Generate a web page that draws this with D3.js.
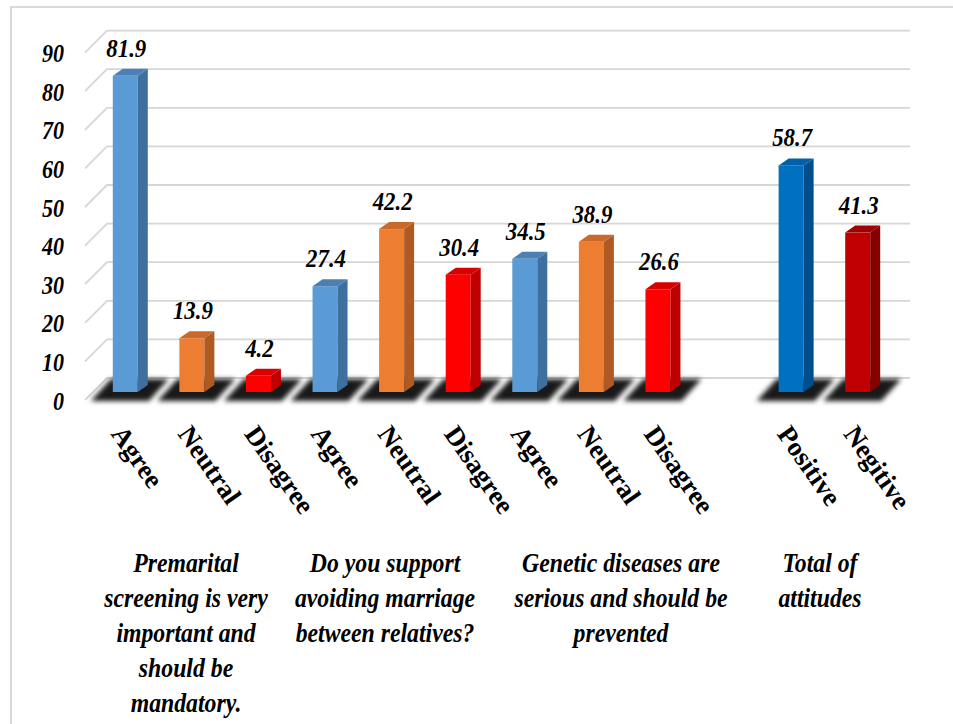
<!DOCTYPE html>
<html>
<head>
<meta charset="utf-8">
<script src="https://cdn.jsdelivr.net/npm/d3@7"></script>
<style>
  html, body { margin: 0; padding: 0; background: #fff; }
  svg { display: block; }
</style>
</head>
<body>
<svg id="chart" width="953" height="724"></svg>
<script>
// ---------------- DATA ----------------
const categories = ["Agree", "Neutral", "Disagree", "Agree", "Neutral", "Disagree",
                    "Agree", "Neutral", "Disagree", "", "Positive", "Negitive"];
const values = [81.9, 13.9, 4.2, 27.4, 42.2, 30.4, 34.5, 38.9, 26.6, null, 58.7, 41.3];
const colorKeys = ["agree", "neutral", "disagree", "agree", "neutral", "disagree",
                   "agree", "neutral", "disagree", null, "positive", "negative"];
const yTicks = [0, 10, 20, 30, 40, 50, 60, 70, 80, 90];
const groupLabels = [
  ["Premarital", "screening is very", "important and", "should be", "mandatory."],
  ["Do you support", "avoiding marriage", "between relatives?"],
  ["Genetic diseases are", "serious and should be", "prevented"],
  ["Total of", "attitudes"]
];

// ---------------- STYLE / LAYOUT ----------------
const palette = {
  agree:    { front: "#5B9BD5", side: "#3F6F9E", top: "#4A80B5" },
  neutral:  { front: "#ED7D31", side: "#AE5A22", top: "#C9692A" },
  disagree: { front: "#FF0000", side: "#BF0000", top: "#D90000" },
  positive: { front: "#0070C0", side: "#004F8C", top: "#0060A8" },
  negative: { front: "#C00000", side: "#850000", top: "#A00000" }
};
const groupLabelX = [186, 385, 621, 820];
const serif = "'Liberation Serif', 'Times New Roman', serif";

const svg = d3.select("#chart");

// Frame
svg.append("path").attr("d", "M11,724 L11,7 L953,7")
  .attr("fill", "none").attr("stroke", "#d9d9d9").attr("stroke-width", 2);

// Scales
const depthX = 22, depthY = 22;      // wall depth offset
const wallLeft = 107, wallRight = 910;
const yBack = d3.scaleLinear().domain([0, 90]).range([378, 378 - 90 * 3.86]);
const yFront = v => yBack(v) + depthY;
const yBar = d3.scaleLinear().domain([0, 90]).range([392, 392 - 90 * 3.86]);
const x = d3.scaleBand().domain(d3.range(categories.length)).range([97, 896]).paddingInner(0);
const barW = 25, sideW = 10, sideH = 7;
const barLeft = i => x(i) + x.bandwidth() / 2 - 17.5;

// Defs
const defs = svg.append("defs");
defs.append("filter").attr("id", "blur").attr("x", "-30%").attr("y", "-80%")
  .attr("width", "160%").attr("height", "260%")
  .append("feGaussianBlur").attr("stdDeviation", 2.6);

// Gridlines (back wall + left wall diagonal)
const grid = svg.append("g");
yTicks.forEach(t => {
  grid.append("path")
    .attr("d", `M${wallLeft - depthX},${yFront(t)} L${wallLeft},${yBack(t)} L${wallRight},${yBack(t)}`)
    .attr("fill", "none").attr("stroke", "#d6d6d6").attr("stroke-width", 1.8);
});

// Y tick labels
svg.append("g").selectAll("text").data(yTicks).join("text")
  .attr("transform", d => `translate(64,${yFront(d) + 1}) scale(0.92,1.05)`)
  .attr("text-anchor", "end").attr("dominant-baseline", "central")
  .attr("font-family", serif).attr("font-weight", "bold").attr("font-style", "italic")
  .attr("font-size", 24).attr("fill", "#000")
  .text(d => d);

// Floor shadows
const idx = d3.range(categories.length).filter(i => values[i] != null);
svg.append("g").attr("filter", "url(#blur)").selectAll("path").data(idx).join("path")
  .attr("d", i => {
    const l = barLeft(i);
    const t = yBack(0) + 1, b = yFront(0) + 1;
    return `M${l - 2},${t} L${l + 56},${t} L${l + 36},${b} L${l - 22},${b} Z`;
  })
  .attr("fill", "#000").attr("opacity", 0.9);

// Bars
const bars = svg.append("g").selectAll("g").data(idx).join("g");
bars.append("rect")
  .attr("x", i => barLeft(i)).attr("y", i => yBar(values[i]))
  .attr("width", barW).attr("height", i => yBar(0) - yBar(values[i]))
  .attr("fill", i => palette[colorKeys[i]].front);
bars.append("path")
  .attr("d", i => {
    const l = barLeft(i) + barW, t = yBar(values[i]), b = yBar(0);
    return `M${l},${t} L${l + sideW},${t - sideH} L${l + sideW},${b - sideH} L${l},${b} Z`;
  })
  .attr("fill", i => palette[colorKeys[i]].side);
bars.append("path")
  .attr("d", i => {
    const l = barLeft(i), t = yBar(values[i]);
    return `M${l},${t} L${l + sideW},${t - sideH} L${l + barW + sideW},${t - sideH} L${l + barW},${t} Z`;
  })
  .attr("fill", i => palette[colorKeys[i]].top);

// Value labels
svg.append("g").selectAll("text").data(idx).join("text")
  .attr("transform", i => `translate(${barLeft(i) + barW / 2 + 1},${yBar(values[i]) - 19}) scale(0.95,1.05)`)
  .attr("text-anchor", "middle")
  .attr("font-family", serif).attr("font-weight", "bold").attr("font-style", "italic")
  .attr("font-size", 24).attr("fill", "#000")
  .text(i => values[i].toFixed(1));

// Category labels (rotated)
svg.append("g").selectAll("text").data(idx).join("text")
  .attr("transform", i => `translate(${barLeft(i) + barW / 2 - 15},${434}) rotate(55)`)
  .attr("text-anchor", "start")
  .attr("font-family", serif).attr("font-weight", "bold")
  .attr("font-size", 27).attr("fill", "#000")
  .text(i => categories[i]);

// Group labels
const gl = svg.append("g");
groupLabels.forEach((lines, gi) => {
  const g = gl.append("g").attr("transform", `translate(${groupLabelX[gi]},0) scale(0.88,1)`);
  g.selectAll("text").data(lines).join("text")
    .attr("x", 0).attr("y", (d, k) => 572 + k * 35)
    .attr("text-anchor", "middle")
    .attr("font-family", serif).attr("font-weight", "bold").attr("font-style", "italic")
    .attr("font-size", 27).attr("fill", "#000")
    .text(d => d);
});
</script>
</body>
</html>
